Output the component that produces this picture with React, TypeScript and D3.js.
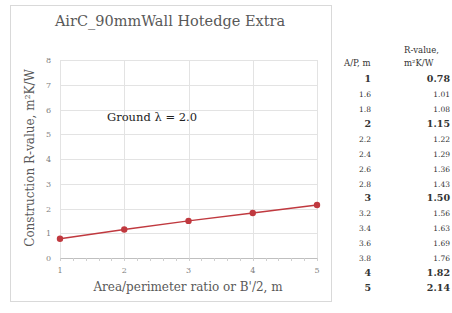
import React, { useEffect, useRef } from 'react';
import * as d3 from 'd3';

// chart points
const ratios = [1, 2, 3, 4, 5];
const rValues = [0.78, 1.15, 1.5, 1.82, 2.14];
const yTicks = [0, 1, 2, 3, 4, 5, 6, 7, 8];

// side table
const tableRatios = ['1', '1.6', '1.8', '2', '2.2', '2.4', '2.6', '2.8', '3', '3.2', '3.4', '3.6', '3.8', '4', '5'];
const tableValues = ['0.78', '1.01', '1.08', '1.15', '1.22', '1.29', '1.36', '1.43', '1.50', '1.56', '1.63', '1.69', '1.76', '1.82', '2.14'];
const boldRows = ['1', '2', '3', '4', '5'];

const App: React.FC = () => {
    const svgRef = useRef<SVGSVGElement | null>(null);

    useEffect(() => {
        const svg = d3.select(svgRef.current);
        svg.selectAll('*').remove();
        const serif = "'DejaVu Serif', serif";
        const margin = { top: 60, left: 60, right: 317, bottom: 258 };

        const x = d3.scaleLinear().domain([1, 5]).range([margin.left, margin.right]);
        const y = d3.scaleLinear().domain([0, 8]).range([margin.bottom, margin.top]);

        // outer frame
        svg.append('rect')
            .attr('x', 10.5).attr('y', 5.5)
            .attr('width', 321).attr('height', 296)
            .attr('fill', 'white').attr('stroke', '#d9d9d9');

        svg.append('text')
            .attr('x', 170).attr('y', 26)
            .attr('text-anchor', 'middle')
            .attr('font-family', serif).attr('font-size', 14.5)
            .attr('fill', '#595959')
            .text('AirC_90mmWall Hotedge Extra');

        // grid
        svg.append('g')
            .selectAll('line')
            .data(yTicks)
            .join('line')
            .attr('x1', margin.left).attr('x2', margin.right)
            .attr('y1', d => Math.round(y(d)) + 0.5).attr('y2', d => Math.round(y(d)) + 0.5)
            .attr('stroke', d => (d === 0 ? '#bfbfbf' : '#e3e3e3'));

        svg.append('g')
            .selectAll('line')
            .data(ratios)
            .join('line')
            .attr('x1', d => Math.round(x(d)) + 0.5).attr('x2', d => Math.round(x(d)) + 0.5)
            .attr('y1', margin.top).attr('y2', margin.bottom)
            .attr('stroke', '#e3e3e3');

        // minor ticks
        svg.append('g')
            .selectAll('line')
            .data(d3.range(1, 5.001, 0.2))
            .join('line')
            .attr('x1', d => Math.round(x(d)) + 0.5).attr('x2', d => Math.round(x(d)) + 0.5)
            .attr('y1', margin.bottom).attr('y2', margin.bottom + 3)
            .attr('stroke', '#cfcfcf');

        svg.append('g')
            .selectAll('text')
            .data(yTicks)
            .join('text')
            .attr('x', 51).attr('y', d => y(d) + 3)
            .attr('text-anchor', 'end')
            .attr('font-family', serif).attr('font-size', 8)
            .attr('fill', '#7f7f7f')
            .text(d => d);

        svg.append('g')
            .selectAll('text')
            .data(ratios)
            .join('text')
            .attr('x', d => x(d)).attr('y', 273)
            .attr('text-anchor', 'middle')
            .attr('font-family', serif).attr('font-size', 8)
            .attr('fill', '#7f7f7f')
            .text(d => d);

        svg.append('text')
            .attr('x', 188).attr('y', 291)
            .attr('text-anchor', 'middle')
            .attr('font-family', serif).attr('font-size', 12)
            .attr('fill', '#595959')
            .text("Area/perimeter ratio or B'/2, m");

        svg.append('text')
            .attr('transform', 'translate(34,158) rotate(-90)')
            .attr('text-anchor', 'middle')
            .attr('font-family', serif).attr('font-size', 12)
            .attr('fill', '#595959')
            .text('Construction R-value, m²K/W');

        svg.append('text')
            .attr('x', 107).attr('y', 121)
            .attr('font-family', serif).attr('font-size', 11.5)
            .attr('fill', '#222')
            .text('Ground λ = 2.0');

        // series
        const pts = ratios.map((r, i) => [r, rValues[i]] as [number, number]);
        const line = d3.line<[number, number]>().x(d => x(d[0])).y(d => y(d[1]));
        svg.append('path')
            .datum(pts)
            .attr('d', line)
            .attr('fill', 'none')
            .attr('stroke', '#c0393f')
            .attr('stroke-width', 1.5);

        svg.append('g')
            .selectAll('circle')
            .data(pts)
            .join('circle')
            .attr('cx', d => x(d[0])).attr('cy', d => y(d[1]))
            .attr('r', 3.2)
            .attr('fill', '#c0393f');

        // table
        svg.append('text')
            .attr('x', 344).attr('y', 66)
            .attr('font-family', serif).attr('font-size', 8.5).attr('fill', '#333')
            .text('A/P, m');
        svg.append('text')
            .attr('x', 404).attr('y', 53)
            .attr('font-family', serif).attr('font-size', 8.5).attr('fill', '#333')
            .text('R-value,');
        svg.append('text')
            .attr('x', 404).attr('y', 66)
            .attr('font-family', serif).attr('font-size', 8.5).attr('fill', '#333')
            .text('m²K/W');

        const rowY = d3.scaleLinear().domain([0, tableRatios.length - 1]).range([82, 291]);
        const rows = svg.append('g')
            .selectAll('g')
            .data(tableRatios)
            .join('g');
        rows.append('text')
            .attr('x', 371).attr('y', (d, i) => rowY(i))
            .attr('text-anchor', 'end')
            .attr('font-family', serif)
            .attr('font-size', d => (boldRows.includes(d) ? 9.5 : 7.5))
            .attr('font-weight', d => (boldRows.includes(d) ? 'bold' : 'normal'))
            .attr('fill', '#333')
            .text(d => d);
        rows.append('text')
            .attr('x', 450).attr('y', (d, i) => rowY(i))
            .attr('text-anchor', 'end')
            .attr('font-family', serif)
            .attr('font-size', d => (boldRows.includes(d) ? 9.5 : 7.5))
            .attr('font-weight', d => (boldRows.includes(d) ? 'bold' : 'normal'))
            .attr('fill', '#333')
            .text((d, i) => tableValues[i]);
    }, []);

    return (
        <svg ref={svgRef} width={452} height={313}
            style={{ position: 'absolute', left: 0, top: 0, background: 'white' }} />
    );
};

export default App;
